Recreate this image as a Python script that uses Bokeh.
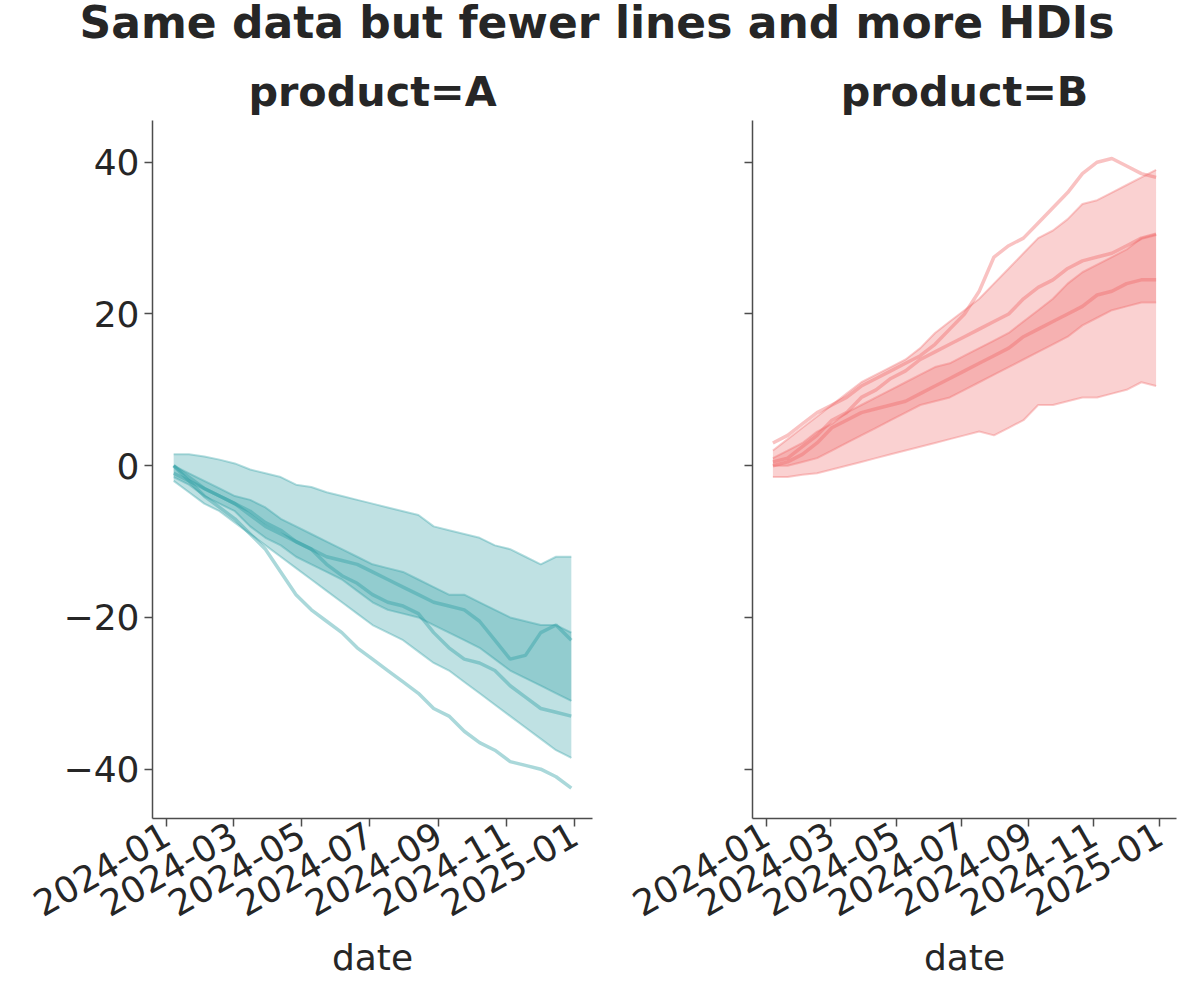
import numpy as np, pandas as pd
from bokeh.plotting import figure
from bokeh.layouts import column, row
from bokeh.models import Div, FixedTicker, DatetimeTickFormatter, Range1d
from bokeh.embed import file_html
from bokeh.resources import INLINE

dates = pd.date_range("2024-01-07", "2024-12-29", periods=27)
tick_labels = ["2024-01","2024-03","2024-05","2024-07","2024-09","2024-11","2025-01"]

a_outer_hi = [1.5,1.5,1.2,0.8,0.3,-0.5,-1.0,-1.5,-2.5,-2.8,-3.5,-4,-4.5,-5,-5.5,-6,-6.5,-8,-8.5,-9,-9.5,-10.5,-11,-12,-13,-12,-12]
a_outer_lo = [-2,-3.5,-5,-6,-7.5,-9,-10.5,-12,-13.5,-15,-16.5,-18,-19.5,-21,-22,-23,-24.5,-26,-27,-28.5,-30,-31.5,-33,-34.5,-36,-37.5,-38.5]
a_inner_hi = [0,-1,-2,-3,-4,-4.5,-5.5,-7,-8,-9,-10,-11,-12,-13,-13.5,-14,-15,-16,-17,-17,-18,-19,-20,-20.5,-21,-21,-22]
a_inner_lo = [-1.5,-2.5,-4,-5,-6,-8,-9.5,-10.5,-12,-13,-14,-15,-16.5,-18,-19,-19.5,-20,-21,-22,-23,-24,-25.5,-27,-28,-29,-30,-31]
a_line1 = [0,-2,-4,-5.5,-7,-9,-11,-14,-17,-19,-20.5,-22,-24,-25.5,-27,-28.5,-30,-32,-33,-35,-36.5,-37.5,-39,-39.5,-40,-41,-42.5]
a_line2 = [-1,-2,-3,-4,-5,-6.5,-8,-9,-10,-11,-13,-14.5,-15.5,-17,-18,-18.5,-19.5,-22,-24,-25.5,-26,-27,-29,-30.5,-32,-32.5,-33]
a_line3 = [0,-1.5,-3,-4,-5,-6,-7.5,-8.5,-10,-11,-12,-12.5,-13,-14,-15,-16,-17,-18,-18.5,-19,-20.5,-23,-25.5,-25,-22,-21,-23]

b_outer_hi = [2,3.5,5,6.5,8,9.5,11,12,13,14,15.5,17.5,19,20.5,22,24,26,28,30,31,32.5,34.5,35,36,37,38,39]
b_outer_lo = [-1.5,-1.5,-1.2,-1,-0.5,0,0.5,1,1.5,2,2.5,3,3.5,4,4.5,4,5,6,8,8,8.5,9,9,9.5,10,11,10.5]
b_inner_hi = [1,2,3,4.5,5.5,7,8,9,10,11,12,13,13.5,14.5,15.5,16.5,17.5,19,20.5,22,24,25.5,26.5,27.5,28.5,30,30.5]
b_inner_lo = [0,0,0.5,1,2,3,4,5,6,7,8,8.5,9,10,11,12,13,14,15,16,17,18.5,19.5,20.5,21,21.5,21.5]
b_line1 = [3,4,5.5,7,8,9,10.5,11.5,12.5,13.5,14.5,16,18,20,23,27.5,29,30,32,34,36,38.5,40,40.5,39.5,38.5,38]
b_line2 = [0.5,1,2.5,4,6,7,9,10,11.5,12.5,14,15,16,17,18,19,20,22,23.5,24.5,26,27,27.5,28,29,30,30.5]
b_line3 = [0,0.5,1.5,3,5,6,7,7.5,8,8.5,9.5,10.5,11.5,12.5,13.5,14.5,15.5,17,18,19,20,21,22.5,23,24,24.5,24.5]

FONT = "DejaVu Sans"
TXT = "#262626"
ticks = [pd.Timestamp(t + "-01").value // 10**6 for t in tick_labels]
yr = Range1d(-46.5, 45.5)
xr = Range1d(pd.Timestamp("2023-12-19"), pd.Timestamp("2025-01-17"))

def panel(name, color, ohi, olo, ihi, ilo, lines, left_labels, w, border_left):
    p = figure(width=w, height=920, x_axis_type="datetime", x_range=xr, y_range=yr,
               output_backend="svg", toolbar_location=None, title=name,
               min_border_left=border_left, min_border_right=8, min_border_top=0)
    p.title.text_font = FONT; p.title.text_font_size = "31pt"; p.title.text_font_style = "bold"
    p.title.align = "center"; p.title.text_color = TXT
    p.varea(x=dates, y1=olo, y2=ohi, fill_color=color, fill_alpha=0.3)
    p.line(x=dates, y=ohi, color=color, alpha=0.35, line_width=2)
    p.line(x=dates, y=olo, color=color, alpha=0.35, line_width=2)
    p.varea(x=dates, y1=ilo, y2=ihi, fill_color=color, fill_alpha=0.3)
    p.line(x=dates, y=ihi, color=color, alpha=0.35, line_width=2)
    p.line(x=dates, y=ilo, color=color, alpha=0.35, line_width=2)
    for l in lines:
        p.line(x=dates, y=l, color=color, alpha=0.4, line_width=3.5)
    p.xgrid.visible = False; p.ygrid.visible = False
    p.outline_line_color = None
    p.xaxis.ticker = FixedTicker(ticks=ticks)
    p.xaxis.formatter = DatetimeTickFormatter(days="%Y-%m", months="%Y-%m", years="%Y-%m")
    p.xaxis.major_label_orientation = 0.52
    p.xaxis.axis_label = "date"
    p.yaxis.ticker = FixedTicker(ticks=[-40,-20,0,20,40])
    for ax in (p.xaxis, p.yaxis):
        ax.major_label_text_font = FONT; ax.major_label_text_font_size = "27pt"
        ax.major_label_text_color = TXT
        ax.axis_label_text_font = FONT; ax.axis_label_text_font_size = "27pt"
        ax.axis_label_text_font_style = "normal"; ax.axis_label_text_color = TXT
        ax.minor_tick_line_color = None
        ax.major_tick_out = 8; ax.major_tick_in = 0
        ax.axis_line_color = "#4d4d4d"; ax.major_tick_line_color = "#4d4d4d"
        ax.axis_line_width = 1.5; ax.major_tick_line_width = 1.5
    if not left_labels:
        p.yaxis.major_label_text_color = None
    return p

pa = panel("product=A", "#2a9da2", a_outer_hi, a_outer_lo, a_inner_hi, a_inner_lo,
           [a_line1, a_line2, a_line3], True, 600, 152)
pb = panel("product=B", "#f06767", b_outer_hi, b_outer_lo, b_inner_hi, b_inner_lo,
           [b_line1, b_line2, b_line3], False, 584, 152)
title = Div(text="Same data but fewer lines and more HDIs", width=1184,
            styles={"font-family": FONT, "font-size": "33pt", "font-weight": "bold",
                    "color": TXT, "text-align": "center", "width": "1184px",
                    "margin-top": "-8px"})
layout = column(title, row(pa, pb))
open("out.html", "w").write(file_html(layout, INLINE))
